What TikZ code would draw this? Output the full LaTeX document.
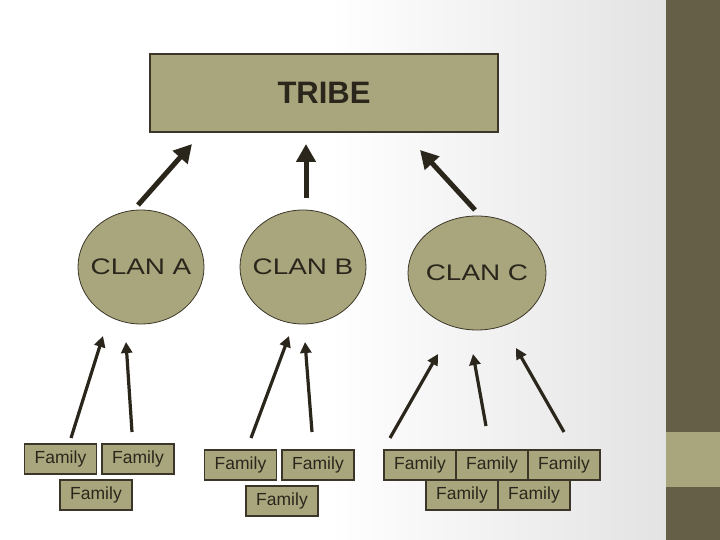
\documentclass[tikz,border=0pt]{standalone}
\usepackage{fontspec}
\usepackage{graphicx}
\setmainfont{Liberation Sans}
\usetikzlibrary{arrows.meta,shapes.geometric}
\definecolor{khaki}{HTML}{A9A67E}
\definecolor{darkbar}{HTML}{665F48}
\definecolor{ink}{HTML}{2A261B}
\definecolor{edgec}{HTML}{3B3627}
\begin{document}
\begin{tikzpicture}[x=1pt,y=-1pt,
  box/.style={draw=edgec, line width=1.2pt, fill=khaki, inner sep=0pt, text=ink},
  fam/.style={box, minimum width=72pt, minimum height=30pt, font=\fontsize{17.5}{17.5}\selectfont},
  clan/.style={ellipse, draw=edgec, line width=0.8pt, fill=khaki, inner sep=0pt, text=ink, font=\fontsize{22.5}{22.5}\selectfont},
  big/.style={draw=ink, line width=5pt, -{Triangle[length=18pt,width=19pt]}},
  small/.style={draw=ink, line width=3.2pt, -{Triangle[length=11pt,width=11pt]}}]
\useasboundingbox (0,0) rectangle (720,540);
% background
\fill[white] (0,0) rectangle (666,540);
\shade[left color=white, right color=black!11] (330,0) rectangle (666,540);
\fill[darkbar] (666,0) rectangle (720,432);
\fill[khaki] (666,432) rectangle (720,487);
\fill[darkbar] (666,487) rectangle (720,540);

% tribe
\node[box, minimum width=348pt, minimum height=78pt, font=\fontsize{31}{31}\selectfont\bfseries] (tribe) at (324,93) {TRIBE};

% clans
\node[clan, minimum width=126pt, minimum height=114pt] (clanA) at (141,267) {\makebox[0pt]{\scalebox{1.24}[1]{CLAN A}}};
\node[clan, minimum width=126pt, minimum height=114pt] (clanB) at (303,267) {\makebox[0pt]{\scalebox{1.24}[1]{CLAN B}}};
\node[clan, minimum width=138pt, minimum height=114pt] (clanC) at (477,273) {\makebox[0pt]{\scalebox{1.24}[1]{CLAN C}}};

% families
\node[fam] (fA1) at (60.5,459) {Family};
\node[fam] (fA2) at (138,459) {Family};
\node[fam] (fA3) at (96,495) {Family};
\node[fam] (fB1) at (240.5,465) {Family};
\node[fam] (fB2) at (318,465) {Family};
\node[fam] (fB3) at (282,501) {Family};
\node[fam] (fC1) at (420,465) {Family};
\node[fam] (fC2) at (492,465) {Family};
\node[fam] (fC3) at (564,465) {Family};
\node[fam] (fC4) at (462,495) {Family};
\node[fam] (fC5) at (534,495) {Family};

% arrow end points
\coordinate (tA) at (138,205); \coordinate (hA) at (192,144);
\coordinate (tB) at (306,198); \coordinate (hB) at (306,144);
\coordinate (tC) at (475,210); \coordinate (hC) at (420,150);
\draw[big] (tA) -- (hA);
\draw[big] (tB) -- (hB);
\draw[big] (tC) -- (hC);

\coordinate (a1t) at (71,438);  \coordinate (a1h) at (103,336);
\coordinate (a2t) at (132,432); \coordinate (a2h) at (126,342);
\coordinate (b1t) at (251,438); \coordinate (b1h) at (289,336);
\coordinate (b2t) at (312,432); \coordinate (b2h) at (305,342);
\coordinate (c1t) at (390,438); \coordinate (c1h) at (438,354);
\coordinate (c2t) at (486,426); \coordinate (c2h) at (473,354);
\coordinate (c3t) at (564,432); \coordinate (c3h) at (516,348);
\draw[small] (a1t) -- (a1h);
\draw[small] (a2t) -- (a2h);
\draw[small] (b1t) -- (b1h);
\draw[small] (b2t) -- (b2h);
\draw[small] (c1t) -- (c1h);
\draw[small] (c2t) -- (c2h);
\draw[small] (c3t) -- (c3h);
\end{tikzpicture}
\end{document}
